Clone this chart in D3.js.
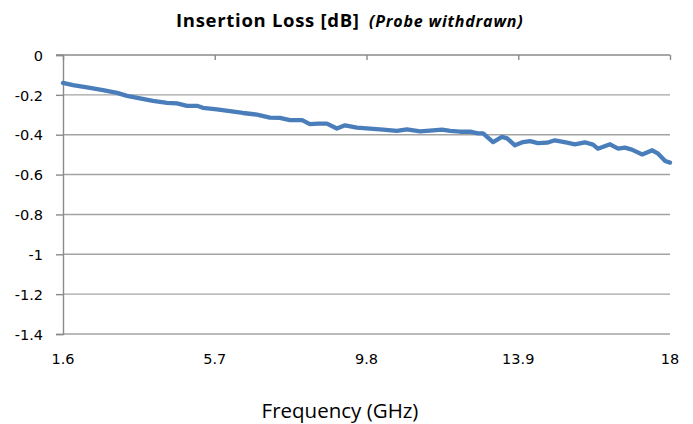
<!DOCTYPE html>
<html><head><meta charset="utf-8">
<script src="https://cdn.jsdelivr.net/npm/d3@7"></script>
<style>body{margin:0;background:#fff}svg{display:block}</style>
</head><body>
<script>
const freqGHz = [1.6,1.87,2.33,2.68,3.06,3.33,3.68,4.03,4.41,4.68,4.95,5.22,5.38,5.76,6.11,6.46,6.84,7.19,7.46,7.73,8.06,8.27,8.49,8.73,9.00,9.22,9.54,9.89,10.25,10.62,10.89,11.25,11.60,11.84,12.06,12.33,12.60,12.81,12.95,13.22,13.46,13.60,13.81,14.03,14.22,14.43,14.68,14.89,15.22,15.43,15.70,15.92,16.05,16.38,16.60,16.78,16.97,17.25,17.52,17.68,17.87,18.0];
const lossDB = [-0.140,-0.151,-0.165,-0.176,-0.190,-0.205,-0.218,-0.230,-0.240,-0.243,-0.255,-0.255,-0.265,-0.273,-0.282,-0.291,-0.299,-0.314,-0.316,-0.327,-0.327,-0.347,-0.344,-0.344,-0.369,-0.353,-0.364,-0.369,-0.374,-0.381,-0.373,-0.383,-0.378,-0.374,-0.381,-0.385,-0.385,-0.393,-0.393,-0.437,-0.411,-0.418,-0.453,-0.437,-0.432,-0.442,-0.440,-0.428,-0.440,-0.448,-0.438,-0.450,-0.470,-0.448,-0.470,-0.465,-0.475,-0.499,-0.478,-0.495,-0.532,-0.540];
const xTicks = [1.6,5.7,9.8,13.9,18];
const yTicks = [0,-0.2,-0.4,-0.6,-0.8,-1,-1.2,-1.4];

const W=693,H=424, L=63, R=670, T=55, B=334;
const svg=d3.select("body").append("svg").attr("width",W).attr("height",H);
const x=d3.scaleLinear().domain([1.6,18]).range([L,R]);
const y=d3.scaleLinear().domain([-1.4,0]).range([B,T]);
const font="'Open Sans', sans-serif";
const tickFont="'DejaVu Sans', sans-serif";

// gridlines
svg.append("g").selectAll("line").data(yTicks.filter(d=>d!==0)).join("line")
  .attr("x1",L).attr("x2",R).attr("y1",d=>y(d)).attr("y2",d=>y(d))
  .attr("stroke","#a3a3a3").attr("stroke-width",1.4);

// y axis
const ya=svg.append("g").attr("transform",`translate(${L},0)`)
  .call(d3.axisLeft(y).tickValues(yTicks).tickSize(7).tickFormat(d=>String(d)));
ya.select(".domain").attr("stroke","#8a8a8a").attr("stroke-width",1.4);
ya.selectAll(".tick line").attr("stroke","#8a8a8a").attr("stroke-width",1.4);
ya.selectAll("text").attr("font-family",tickFont).attr("font-size",14.5).attr("fill","#000")
  .attr("x",-20).attr("dy","0.36em");

// x axis at top (value 0), ticks pointing down, labels at bottom
const xa=svg.append("g").attr("transform",`translate(0,${T})`)
  .call(d3.axisBottom(x).tickValues(xTicks).tickSize(5).tickFormat(""));
xa.select(".domain").attr("stroke","#8a8a8a").attr("stroke-width",1.4).attr("d",`M${L-7},0H${R}`);
xa.selectAll(".tick line").attr("stroke","#8a8a8a").attr("stroke-width",1.4);
svg.append("g").selectAll("text").data(xTicks).join("text")
  .attr("x",d=>x(d)).attr("y",364).attr("text-anchor","middle")
  .attr("font-family",tickFont).attr("font-size",14.5).text(d=>d);

// line
svg.append("path").datum(freqGHz.map((f,i)=>[f,lossDB[i]]))
  .attr("fill","none").attr("stroke","#4a7ebb").attr("stroke-width",4.3)
  .attr("stroke-linejoin","round").attr("stroke-linecap","round")
  .attr("d",d3.line().x(d=>x(d[0])).y(d=>y(d[1])));

// title
svg.append("text").attr("x",176).attr("y",27).attr("font-family",font)
  .attr("font-weight","bold").attr("font-size",18.5).attr("letter-spacing",0.7)
  .text("Insertion Loss [dB]");
svg.append("text").attr("x",369).attr("y",27).attr("font-family",font)
  .attr("font-weight","bold").attr("font-style","italic").attr("font-size",16).attr("letter-spacing",0.8)
  .text("(Probe withdrawn)");

// x axis title
svg.append("text").attr("x",340).attr("y",418).attr("text-anchor","middle")
  .attr("font-family",font).attr("font-size",20.5).text("Frequency (GHz)");
</script>
</body></html>
